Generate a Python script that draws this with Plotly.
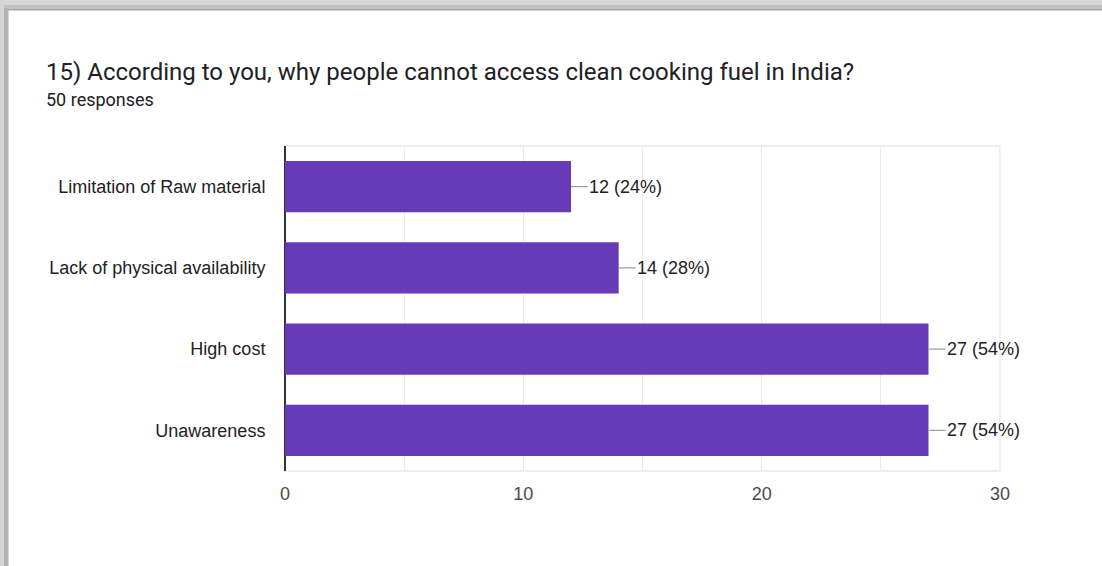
import plotly.graph_objects as go

# Survey question 15 — reasons given for lack of access to clean cooking fuel
categories = [
    "Limitation of Raw material",
    "Lack of physical availability",
    "High cost",
    "Unawareness",
]
counts = [12, 14, 27, 27]
total_responses = 50
x_ticks = [0, 10, 20, 30]

title_text = "15) According to you, why people cannot access clean cooking fuel in India?"
subtitle_text = f"{total_responses} responses"

W, H = 1102, 566
L, R, T, B = 285, 102, 146, 95
PW, PH = W - L - R, H - T - B


def px_x(p):
    """Convert a page x pixel into paper coordinates."""
    return (p - L) / PW


def px_y(p):
    """Convert a page y pixel (from top) into paper coordinates."""
    return (H - B - p) / PH


BAR = "#673ab7"
TEXT = "#222222"

fig = go.Figure(
    go.Bar(
        x=counts,
        y=categories,
        orientation="h",
        marker=dict(color=BAR, line=dict(width=0)),
        width=0.63,
        hoverinfo="skip",
    )
)

# value labels with a short leader line from the bar end
annotations = []
for cat, v in zip(categories, counts):
    annotations.append(
        dict(
            x=v, y=cat, xref="x", yref="y",
            text=f"{v} ({v / total_responses * 100:.0f}%)",
            showarrow=True, arrowhead=0, arrowwidth=1.3, arrowcolor="#9e9e9e",
            ax=17, ay=0, xanchor="left", yanchor="middle",
            borderpad=0,
            font=dict(family="Liberation Sans, Arial", size=18, color=TEXT),
        )
    )

annotations.append(
    dict(
        x=px_x(44), y=px_y(72), xref="paper", yref="paper",
        text=title_text, showarrow=False, xanchor="left", yanchor="middle",
        font=dict(family="Roboto", size=24, color="#202124"),
    )
)
annotations.append(
    dict(
        x=px_x(44), y=px_y(100), xref="paper", yref="paper",
        text=subtitle_text, showarrow=False, xanchor="left", yanchor="middle",
        font=dict(family="Roboto", size=18, color="#202124"),
    )
)

shapes = [
    # light frame around the plotting area
    dict(type="rect", xref="x domain", yref="y domain", x0=0, x1=1, y0=0, y1=1,
         line=dict(color="#e8e8e8", width=1.3), fillcolor="rgba(0,0,0,0)", layer="below"),
    # card edge shading along the top
    dict(type="rect", xref="paper", yref="paper", x0=px_x(0), x1=px_x(W), y0=px_y(0), y1=px_y(5),
         line=dict(width=0), fillcolor="#d8d8d8"),
    dict(type="rect", xref="paper", yref="paper", x0=px_x(0), x1=px_x(W), y0=px_y(5), y1=px_y(8.5),
         line=dict(width=0), fillcolor="#c2c2c2"),
    dict(type="rect", xref="paper", yref="paper", x0=px_x(0), x1=px_x(W), y0=px_y(8.5), y1=px_y(10.5),
         line=dict(width=0), fillcolor="#a6a6a6"),
    # card edge shading along the left
    dict(type="rect", xref="paper", yref="paper", x0=px_x(0), x1=px_x(4), y0=px_y(0), y1=px_y(H),
         line=dict(width=0), fillcolor="#d6d6d6"),
    dict(type="rect", xref="paper", yref="paper", x0=px_x(4), x1=px_x(8.5), y0=px_y(8), y1=px_y(H),
         line=dict(width=0), fillcolor="#b4b4b4"),
]

fig.update_layout(
    width=W, height=H,
    margin=dict(l=L, r=R, t=T, b=B, pad=0),
    paper_bgcolor="white", plot_bgcolor="white",
    showlegend=False,
    bargap=0.37,
    annotations=annotations,
    shapes=shapes,
    xaxis=dict(
        range=[0, 30], tickvals=x_ticks, ticktext=[str(t) for t in x_ticks],
        showgrid=True, gridcolor="#e8e8e8", gridwidth=1.3,
        minor=dict(dtick=5, showgrid=True, gridcolor="#ececec", gridwidth=1),
        zeroline=True, zerolinecolor="#333333", zerolinewidth=1.6,
        showline=False, ticks="outside", ticklen=6, tickcolor="rgba(0,0,0,0)",
        tickfont=dict(family="Liberation Sans, Arial", size=18, color="#4a4a4a"),
        fixedrange=True,
    ),
    yaxis=dict(
        categoryorder="array", categoryarray=categories, autorange="reversed",
        showgrid=False, zeroline=False, showline=False,
        ticks="outside", ticklen=15, tickcolor="rgba(0,0,0,0)",
        tickfont=dict(family="Liberation Sans, Arial", size=18, color=TEXT),
        fixedrange=True,
    ),
)

fig.write_html("out.html", config={"displayModeBar": False})
